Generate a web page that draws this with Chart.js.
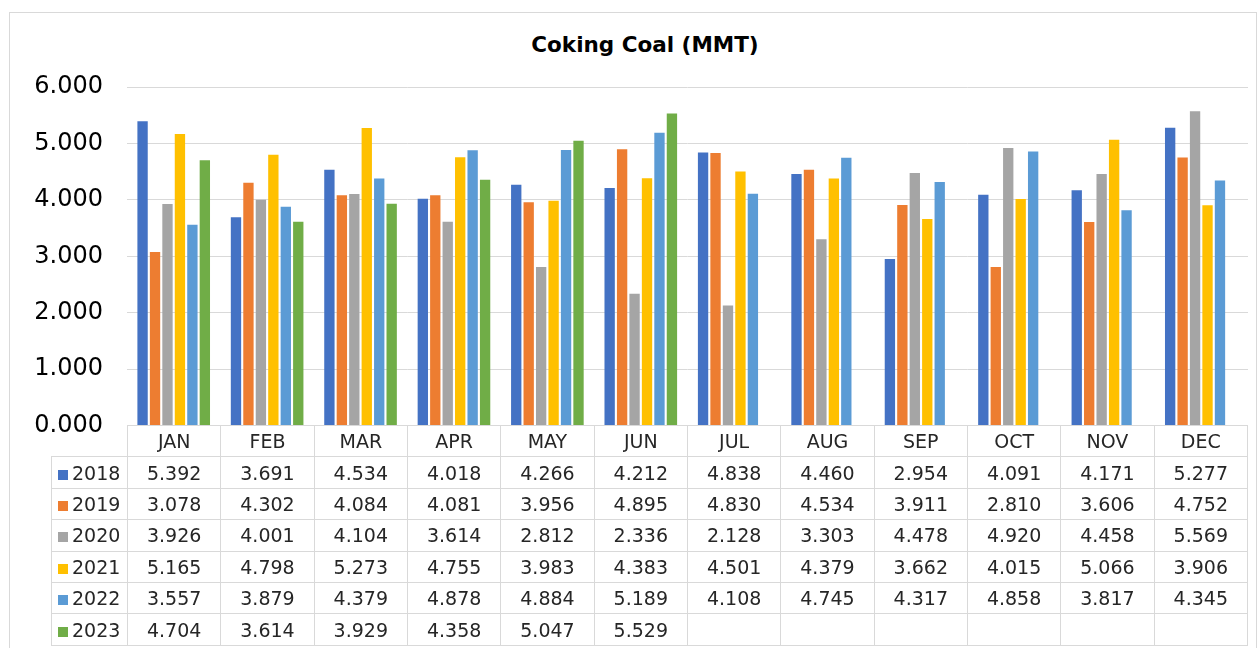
<!DOCTYPE html>
<html>
<head>
<meta charset="utf-8">
<script src="https://cdn.jsdelivr.net/npm/chart.js@4"></script>
<style>
  body { margin: 0; background: #fff; font-family: "DejaVu Sans", Verdana, sans-serif; }
  #frame { position: absolute; left: 9px; top: 12px; width: 1248px; height: 660px; border: 1px solid #d9d9d9; box-sizing: border-box; }
  #title { position: absolute; left: 445px; width: 400px; top: 32px; line-height: 26px; text-align: center; font-weight: bold; font-size: 21.5px; color: #000; }
  #wrap { position: absolute; left: 0; top: 0; width: 1260px; height: 464px; }
  #tbl { position: absolute; left: 51px; top: 425px; border-collapse: collapse; table-layout: fixed; width: 1197px; color: #262626; font-size: 19px; }
  #tbl td { border: 1px solid #d9d9d9; height: 30.4px; padding: 0; text-align: center; white-space: nowrap; background: #fff; }
  #tbl td.corner { border-top: none; border-left: none; background: transparent; }
  #tbl td.key { text-align: left; padding-left: 6px; }
  #tbl .sq { display: inline-block; width: 10px; height: 10px; margin-right: 4px; vertical-align: 0px; }
</style>
</head>
<body>
<div id="frame"></div>
<div id="title">Coking Coal (MMT)</div>
<div id="wrap"><canvas id="chart" width="1260" height="464"></canvas></div>
<table id="tbl"></table>
<script>
// Coking coal monthly volumes (MMT)
const MONTHS = ['JAN', 'FEB', 'MAR', 'APR', 'MAY', 'JUN', 'JUL', 'AUG', 'SEP', 'OCT', 'NOV', 'DEC'];
const YEARS = ['2018', '2019', '2020', '2021', '2022', '2023'];

const v2018 = [5.392, 3.691, 4.534, 4.018, 4.266, 4.212, 4.838, 4.460, 2.954, 4.091, 4.171, 5.277];
const v2019 = [3.078, 4.302, 4.084, 4.081, 3.956, 4.895, 4.830, 4.534, 3.911, 2.810, 3.606, 4.752];
const v2020 = [3.926, 4.001, 4.104, 3.614, 2.812, 2.336, 2.128, 3.303, 4.478, 4.920, 4.458, 5.569];
const v2021 = [5.165, 4.798, 5.273, 4.755, 3.983, 4.383, 4.501, 4.379, 3.662, 4.015, 5.066, 3.906];
const v2022 = [3.557, 3.879, 4.379, 4.878, 4.884, 5.189, 4.108, 4.745, 4.317, 4.858, 3.817, 4.345];
const v2023 = [4.704, 3.614, 3.929, 4.358, 5.047, 5.529, null, null, null, null, null, null];

const Y_TICKS = [0, 1, 2, 3, 4, 5, 6];

const COLORS = {
  '2018': '#4472C4',
  '2019': '#ED7D31',
  '2020': '#A5A5A5',
  '2021': '#FFC000',
  '2022': '#5B9BD5',
  '2023': '#70AD47'
};

const SERIES = [v2018, v2019, v2020, v2021, v2022, v2023];
const FONT = 'DejaVu Sans';

new Chart(document.getElementById('chart'), {
  type: 'bar',
  data: {
    labels: MONTHS,
    datasets: YEARS.map((y, i) => ({
      label: y,
      data: SERIES[i],
      backgroundColor: COLORS[y],
      categoryPercentage: 0.8,
      barPercentage: 0.83
    }))
  },
  options: {
    responsive: false,
    animation: false,
    layout: { padding: { left: 0, right: 12, top: 87, bottom: 35.6 } },
    plugins: {
      legend: { display: false },
      tooltip: { enabled: false }
    },
    scales: {
      x: { display: false },
      y: {
        min: Y_TICKS[0],
        max: Y_TICKS[Y_TICKS.length - 1],
        afterBuildTicks: s => { s.ticks = Y_TICKS.map(v => ({ value: v })); },
        afterFit: s => { s.width = 127; },
        border: { display: false },
        grid: { color: '#d9d9d9', drawTicks: false },
        ticks: {
          padding: 24,
          color: '#000',
          font: { family: FONT, size: 24 },
          callback: v => v.toFixed(3)
        }
      }
    }
  }
});

// data table under the plot
const tbl = document.getElementById('tbl');
let html = '<colgroup><col style="width:76px">' + MONTHS.map(() => '<col>').join('') + '</colgroup>';
html += '<tr><td class="corner"></td>' + MONTHS.map(m => `<td>${m}</td>`).join('') + '</tr>';
YEARS.forEach((y, i) => {
  html += `<tr><td class="key"><span class="sq" style="background:${COLORS[y]}"></span>${y}</td>` +
    SERIES[i].map(v => `<td>${v == null ? '' : v.toFixed(3)}</td>`).join('') + '</tr>';
});
tbl.innerHTML = html;
</script>
</body>
</html>
